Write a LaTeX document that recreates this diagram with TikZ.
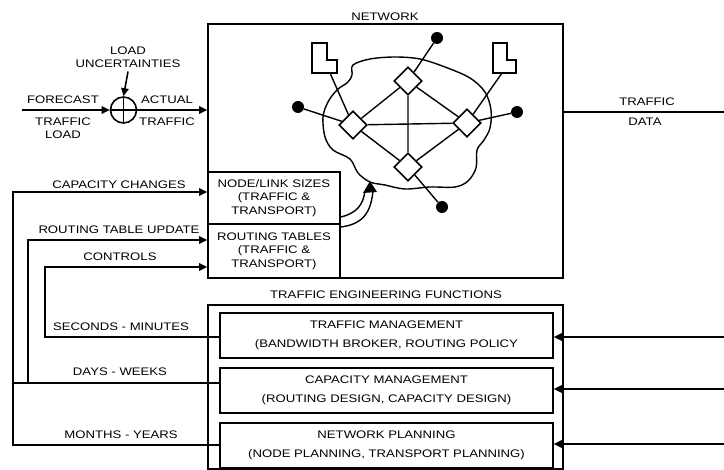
\documentclass[tikz,border=0pt]{standalone}
\usepackage{fontspec}
\setmainfont{Liberation Sans}[FakeStretch=1.2]
\usetikzlibrary{arrows.meta,shapes.geometric,calc}
\begin{document}
\begin{tikzpicture}[x=1bp,y=-1bp,
  lw/.style={line width=1.6bp},
  arr/.style={lw,-{Triangle[length=8bp,width=7.5bp]}},
  lbl/.style={font=\fontsize{11}{13}\selectfont, inner sep=0pt, align=center},
  box/.style={draw,lw,inner sep=0pt,align=center,font=\fontsize{11}{13.5}\selectfont},
  fbox/.style={box,minimum width=333bp,minimum height=45bp,font=\fontsize{11}{18.5}\selectfont},
  dmd/.style={diamond,draw,lw,fill=white,minimum width=28bp,minimum height=28bp,inner sep=0pt},
  dotn/.style={circle,fill=black,minimum size=12bp,inner sep=0pt},
  thin/.style={line width=1.4bp}
  ]
\useasboundingbox (0,0) rectangle (724,470);

% ---------- network box ----------
\node[box,minimum width=355bp,minimum height=254bp] (net) at (385.5,151) {};
\node[lbl] (netlbl) at (385,17) {NETWORK};
\node[box,minimum width=132bp,minimum height=52bp] (nl) at (274,198) {NODE/LINK SIZES\\(TRAFFIC \&\\TRANSPORT)};
\node[box,minimum width=132bp,minimum height=54bp] (rt) at (274,251) {ROUTING TABLES\\(TRAFFIC \&\\TRANSPORT)};

% cloud
\draw[thin] plot[smooth cycle, tension=0.55] coordinates {
(353,65) (370,59) (395,57) (420,59) (445,67) (470,78) (485,92) (491,110)
(490,128) (484,140) (477,150) (476,168) (468,181) (455,187) (430,187)
(405,189) (385,185) (370,182) (358,173) (350,159) (333,150) (325,137)
(323,117) (328,102) (337,90) (348,82) (352,75)};

% terminals (L shapes)
\draw[lw] (312,73) -- (312,43) -- (327,43) -- (327,60) -- (337,60) -- (337,73) -- cycle;
\draw[lw] (493,73) -- (493,43) -- (507,43) -- (507,60) -- (516,60) -- (516,73) -- cycle;
\coordinate (lL) at (330,73);
\coordinate (rL) at (502,73);

% nodes of the network
\node[dmd] (dt) at (408,81) {};
\node[dmd] (dl) at (353,125) {};
\node[dmd] (dr) at (467,123) {};
\node[dmd] (db) at (408,167) {};
\node[dotn] (pt) at (437,38) {};
\node[dotn] (pl) at (298,107) {};
\node[dotn] (pr) at (517,112) {};
\node[dotn] (pb) at (442,207) {};
\draw[thin] (dt)--(dl) (dt)--(dr) (dt)--(db) (dl)--(dr) (dl)--(db) (dr)--(db)
  (pt)--(dt) (pl)--(dl) (dr)--(pr) (db)--(pb) (lL)--(dl) (rL)--(dr);

% curved double arrow into the network
\draw[thin] ([yshift=-19bp]nl.east) .. controls (357,213) and (363,205) .. (365,191);
\draw[thin] ([yshift=24bp]rt.east) .. controls (365,224) and (371,210) .. (373,191);
\fill (370,181) -- (363,193) -- (377,192) -- cycle;

% ---------- input side ----------
\node[circle,draw,lw,minimum size=26bp,inner sep=0pt] (sum) at (123.5,110) {};
\draw[lw] (sum.north) -- (sum.south) (sum.west) -- (sum.east);
\node[lbl] (lu) at (128,57) {LOAD\\UNCERTAINTIES};
\draw[arr] ([yshift=-4bp]lu.south) -- (sum.north);
\coordinate (fin) at (22,110);
\draw[arr] (fin) -- (sum.west);
\draw[arr] (sum.east) -- (net.west |- sum);
\node[lbl] (fc) at (63,100) {FORECAST};
\node[lbl] (tl) at (63,128.5) {TRAFFIC\\LOAD};
\node[lbl] (at) at (167,100) {ACTUAL};
\node[lbl] (atr) at (167,122) {TRAFFIC};

% ---------- traffic data ----------
\coordinate (tdR) at (724,112);
\draw[lw] (net.east |- tdR) -- (tdR);
\node[lbl] (td1) at (647,102) {TRAFFIC};
\node[lbl] (td2) at (645,122) {DATA};

% ---------- traffic engineering functions ----------
\node[box,minimum width=355bp,minimum height=164bp] (te) at (385.5,387) {};
\node[lbl] (telbl) at (386,295) {TRAFFIC ENGINEERING FUNCTIONS};
\node[fbox] (tm) at (386.5,335.5) {TRAFFIC MANAGEMENT\\(BANDWIDTH BROKER, ROUTING POLICY};
\node[fbox] (cm) at (386.5,390.5) {CAPACITY MANAGEMENT\\(ROUTING DESIGN, CAPACITY DESIGN)};
\node[fbox] (np) at (386.5,445.5) {NETWORK PLANNING\\(NODE PLANNING, TRANSPORT PLANNING)};

\coordinate (rTM) at (724,337);
\coordinate (rCM) at (724,389);
\coordinate (rNP) at (724,444);
\draw[arr] (rTM) -- (tm.east |- rTM);
\draw[arr] (rCM) -- (cm.east |- rCM);
\draw[arr] (rNP) -- (np.east |- rNP);

% ---------- feedback loops ----------
\coordinate (b1) at (13,0);
\coordinate (b2) at (28,0);
\coordinate (b3) at (45,0);
\coordinate (tCC) at ([yshift=6bp]nl.west);
\coordinate (tRU) at ([yshift=11bp]rt.west);
\coordinate (tCT) at ([yshift=-16bp]rt.west);
\coordinate (cmL) at ([yshift=7.5bp]cm.west);
\draw[arr] ([yshift=0.5bp]np.west) -| (b1 |- tCC) -- (tCC);
\draw[arr] (cmL) -| (b2 |- tRU) -- (tRU);
\draw[lw] (b1 |- cmL) -- (b2 |- cmL);
\draw[arr] ([yshift=-1.5bp]tm.west) -| (b3 |- tCT) -- (tCT);

\node[lbl] (lcc) at (119,185) {CAPACITY CHANGES};
\node[lbl] (lru) at (119,230) {ROUTING TABLE UPDATE};
\node[lbl] (lct) at (120,257) {CONTROLS};
\node[lbl] (lsm) at (121,327) {SECONDS - MINUTES};
\node[lbl] (ldw) at (120,372) {DAYS - WEEKS};
\node[lbl] (lmy) at (121,435) {MONTHS - YEARS};
\end{tikzpicture}
\end{document}
